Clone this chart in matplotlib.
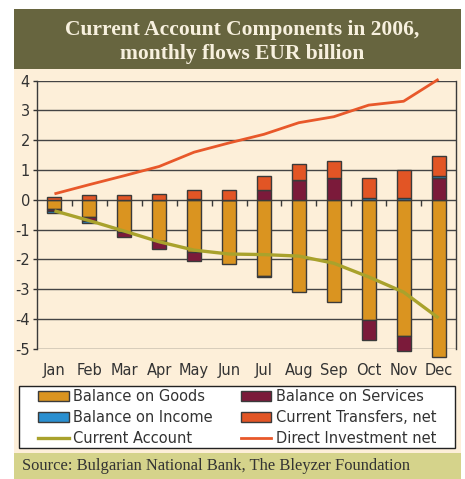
import numpy as np
import matplotlib
matplotlib.use("Agg")
import matplotlib.pyplot as plt
from matplotlib.patches import Rectangle, Patch
from matplotlib.lines import Line2D

months = ['Jan', 'Feb', 'Mar', 'Apr', 'May', 'Jun', 'Jul', 'Aug', 'Sep', 'Oct', 'Nov', 'Dec']
goods = [-0.32, -0.58, -1.07, -1.38, -1.76, -2.17, -2.55, -3.10, -3.43, -4.03, -4.56, -5.29]
services = [-0.06, -0.14, -0.19, -0.28, -0.29, 0.0, 0.34, 0.65, 0.72, -0.68, -0.53, 0.74]
income = [-0.07, -0.07, 0.0, 0.0, 0.04, 0.0, -0.05, 0.0, 0.0, 0.06, 0.07, 0.07]
transfers = [0.08, 0.15, 0.15, 0.20, 0.30, 0.34, 0.45, 0.54, 0.60, 0.66, 0.92, 0.65]
current_account = [-0.37, -0.70, -1.05, -1.41, -1.69, -1.82, -1.84, -1.89, -2.13, -2.59, -3.10, -3.97]
direct_investment = [0.20, 0.51, 0.81, 1.12, 1.60, 1.91, 2.20, 2.59, 2.79, 3.18, 3.31, 4.05]
yticks = [-5, -4, -3, -2, -1, 0, 1, 2, 3, 4]

title = "Current Account Components in 2006,\nmonthly flows EUR billion"
source = "Source: Bulgarian National Bank, The Bleyzer Foundation"

C_GOODS = '#DA9420'
C_SERV = '#7B1A3A'
C_INC = '#2A8FD0'
C_TRANS = '#E25525'
C_CA = '#A9A22C'
C_DI = '#E8582A'
C_PANEL = '#FDEFD9'
C_TITLE = '#67653F'
C_SOURCE = '#D5D38B'
EDGE = '#3a3a3a'

W, H = 465, 479
fig = plt.figure(figsize=(W / 100, H / 100), dpi=100)
fig.patch.set_facecolor('white')

def fx(px):
    return px / W

def fy(py):
    return 1 - py / H

# Background panels
for (x0, y0, x1, y1, col) in [(14, 69, 461, 453, C_PANEL), (14, 9, 461, 69, C_TITLE),
                              (14, 453, 461, 479, C_SOURCE)]:
    fig.patches.append(Rectangle((fx(x0), fy(y1)), fx(x1) - fx(x0), fy(y0) - fy(y1),
                                 transform=fig.transFigure, facecolor=col,
                                 edgecolor='none', zorder=-10))
# legend box
fig.patches.append(Rectangle((fx(19), fy(448)), fx(455) - fx(19), fy(386) - fy(448),
                             transform=fig.transFigure, facecolor='white',
                             edgecolor='#222222', linewidth=1.0, zorder=-5))

serif = ['Liberation Serif', 'DejaVu Serif']
fig.text(fx(242), fy(42), title, ha='center', va='center', color='#F7F0DE',
         fontsize=15.5, fontweight='bold', family=serif, linespacing=1.22, zorder=5)
fig.text(fx(22), fy(466), source, ha='left', va='center', color='#333333',
         fontsize=11.9, family=serif, zorder=5)

# Axes
ax = fig.add_axes([fx(37), fy(348.7), fx(456) - fx(37), fy(80.7) - fy(348.7)])
ax.set_zorder(2)
ax.set_facecolor('none')
x = np.arange(len(months))
width = 0.4

series = [(goods, C_GOODS), (services, C_SERV), (income, C_INC), (transfers, C_TRANS)]
pos_base = np.zeros(len(months))
neg_base = np.zeros(len(months))
for vals, col in series:
    v = np.array(vals, dtype=float)
    bottoms = np.where(v >= 0, pos_base, neg_base)
    ax.bar(x, v, width=width, bottom=bottoms, color=col, edgecolor=EDGE,
           linewidth=1.0, zorder=3, clip_on=False)
    pos_base = pos_base + np.where(v >= 0, v, 0)
    neg_base = neg_base + np.where(v < 0, v, 0)

ax.plot(x, current_account, color=C_CA, lw=2.4, zorder=5, solid_capstyle='butt')
ax.plot(x, direct_investment, color=C_DI, lw=2.0, zorder=5, clip_on=False, solid_capstyle='butt')

ax.set_xlim(-0.5, len(months) - 0.5)
ax.set_ylim(-5, 4)
ax.set_yticks(yticks)
ax.set_yticklabels([str(t) for t in yticks])
ax.set_xticks(x)
ax.set_xticklabels(months)
ax.yaxis.grid(True, color='#444444', lw=1.0, zorder=1)
ax.set_axisbelow(True)
ax.tick_params(axis='x', length=0, pad=10, labelsize=10.5, colors='#333333')
ax.tick_params(axis='y', length=3, width=1, pad=2, labelsize=10.5, colors='#333333')

# category boundary ticks on zero line
bounds = np.arange(len(months) + 1) - 0.5
ax.vlines(bounds[1:-1], -0.2, 0, color=EDGE, lw=1.0, zorder=2)

for s in ['left', 'right']:
    ax.spines[s].set_color(EDGE)
    ax.spines[s].set_linewidth(1.0)
ax.spines['top'].set_visible(False)
ax.spines['bottom'].set_visible(False)

handles = [Patch(facecolor=C_GOODS, edgecolor=EDGE, label='Balance on Goods'),
           Patch(facecolor=C_INC, edgecolor=EDGE, label='Balance on Income'),
           Line2D([], [], color=C_CA, lw=2.4, label='Current Account'),
           Patch(facecolor=C_SERV, edgecolor=EDGE, label='Balance on Services'),
           Patch(facecolor=C_TRANS, edgecolor=EDGE, label='Current Transfers, net'),
           Line2D([], [], color=C_DI, lw=2.0, label='Direct Investment net')]
leg = fig.legend(handles=handles, ncol=2, loc='upper left',
                 bbox_to_anchor=(fx(38), fy(447), fx(436) - fx(38), fy(389) - fy(447)),
                 mode='expand', borderaxespad=0, fontsize=10.5, frameon=False,
                 handlelength=2.1, handleheight=0.7, handletextpad=0.3,
                 labelspacing=0.42, columnspacing=1.5, borderpad=0.0)
leg.set_zorder(6)
for t in leg.get_texts():
    t.set_color('#333333')

fig.savefig('out.png', dpi=100, facecolor='white')
